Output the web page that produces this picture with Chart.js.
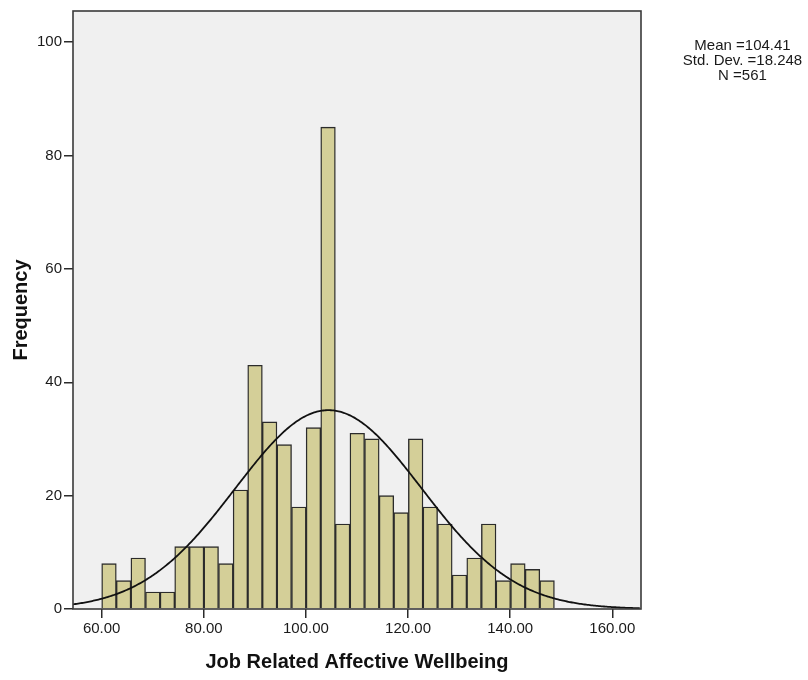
<!DOCTYPE html>
<html>
<head>
<meta charset="utf-8">
<title>Job Related Affective Wellbeing</title>
<script src="https://cdn.jsdelivr.net/npm/chart.js@4.4.1/dist/chart.umd.min.js"></script>
<style>
  html, body { margin: 0; padding: 0; background: #ffffff; }
  #wrap { width: 808px; height: 680px; }
</style>
</head>
<body>
<div id="wrap"><canvas id="hist" width="808" height="680"></canvas></div>
<script>
// Histogram bins: lower edge of the first bin and common bin width
const BIN_START = 60;
const BIN_WIDTH = 2.86;
// Frequency in each bin, left to right
const FREQUENCIES = [8, 5, 9, 3, 3, 11, 11, 11, 8, 21, 43, 33, 29, 18, 32, 85,
                     15, 31, 30, 20, 17, 30, 18, 15, 6, 9, 15, 5, 8, 7, 5];
// Summary statistics shown beside the plot
const MEAN = 104.41;
const STD_DEV = 18.248;
const N = 561;
const STAT_LINES = ['Mean =104.41', 'Std. Dev. =18.248', 'N =561'];
// Axis ticks
const X_TICKS = [60, 80, 100, 120, 140, 160];
const Y_TICKS = [0, 20, 40, 60, 80, 100];
const X_MIN = 54.38, X_MAX = 165.62;
const Y_MIN = 0, Y_MAX = 105.5;

const FONT = "'Liberation Sans', Arial, sans-serif";

// Bars placed at bin centres
const barPoints = FREQUENCIES.map((f, i) => ({ x: BIN_START + BIN_WIDTH * (i + 0.5), y: f }));

// Fitted normal curve scaled to counts per bin
function normalCount(x) {
  const z = (x - MEAN) / STD_DEV;
  return N * BIN_WIDTH * Math.exp(-0.5 * z * z) / (STD_DEV * Math.sqrt(2 * Math.PI));
}
const curvePoints = [];
for (let x = X_MIN; x <= X_MAX + 1e-9; x += 0.25) curvePoints.push({ x: x, y: normalCount(x) });

// Grey plot background and dark frame around the plot area
const framePlugin = {
  id: 'frame',
  beforeDraw(chart) {
    const { ctx, chartArea: a } = chart;
    ctx.save();
    ctx.fillStyle = '#f0f0f0';
    ctx.fillRect(a.left, a.top, a.right - a.left, a.bottom - a.top);
    ctx.restore();
  },
  afterDraw(chart) {
    const { ctx, chartArea: a } = chart;
    ctx.save();
    ctx.strokeStyle = '#3a3a3a';
    ctx.lineWidth = 1.6;
    ctx.strokeRect(a.left, a.top, a.right - a.left, a.bottom - a.top);
    ctx.restore();
  }
};

// Statistics block to the right of the plot
const statsPlugin = {
  id: 'stats',
  afterDraw(chart) {
    const { ctx } = chart;
    ctx.save();
    ctx.fillStyle = '#1a1a1a';
    ctx.font = '15px ' + FONT;
    ctx.textAlign = 'center';
    ctx.textBaseline = 'middle';
    STAT_LINES.forEach((t, i) => ctx.fillText(t, 742.5, 45.5 + i * 15));
    ctx.restore();
  }
};

new Chart(document.getElementById('hist'), {
  type: 'bar',
  data: {
    datasets: [
      {
        type: 'line',
        data: curvePoints,
        borderColor: '#111111',
        borderWidth: 1.8,
        pointRadius: 0,
        tension: 0,
        fill: false,
        order: 0
      },
      {
        type: 'bar',
        data: barPoints,
        backgroundColor: '#d4cf98',
        borderColor: '#2b2b2b',
        borderWidth: 1.4,
        barPercentage: 1,
        categoryPercentage: 1,
        order: 1
      }
    ]
  },
  options: {
    responsive: false,
    animation: false,
    events: [],
    layout: { padding: { left: 0, top: 8, right: 167, bottom: 0 } },
    plugins: { legend: { display: false }, tooltip: { enabled: false } },
    scales: {
      x: {
        type: 'linear',
        offset: false,
        min: X_MIN,
        max: X_MAX,
        afterBuildTicks: s => { s.ticks = X_TICKS.map(v => ({ value: v })); },
        afterFit: s => { s.height = 71; },
        grid: { offset: false, drawOnChartArea: false, drawTicks: true, tickLength: 9, color: '#2b2b2b', lineWidth: 1.5 },
        border: { display: false },
        ticks: {
          autoSkip: false,
          maxRotation: 0,
          padding: 2,
          color: '#1a1a1a',
          font: { family: FONT, size: 15 },
          callback: v => Number(v).toFixed(2)
        },
        title: {
          display: true,
          text: 'Job Related Affective Wellbeing',
          color: '#111111',
          font: { family: FONT, size: 20, weight: 'bold' },
          padding: { top: 0, bottom: 6 }
        }
      },
      y: {
        type: 'linear',
        min: Y_MIN,
        max: Y_MAX,
        afterBuildTicks: s => { s.ticks = Y_TICKS.map(v => ({ value: v })); },
        afterFit: s => { s.width = 73; },
        grid: { drawOnChartArea: false, drawTicks: true, tickLength: 9, color: '#2b2b2b', lineWidth: 1.5 },
        border: { display: false },
        ticks: {
          padding: 2,
          color: '#1a1a1a',
          font: { family: FONT, size: 15 }
        },
        title: {
          display: true,
          text: 'Frequency',
          color: '#111111',
          font: { family: FONT, size: 20, weight: 'bold' },
          padding: { top: 9, bottom: 0 }
        }
      }
    }
  },
  plugins: [framePlugin, statsPlugin]
});
</script>
</body>
</html>
